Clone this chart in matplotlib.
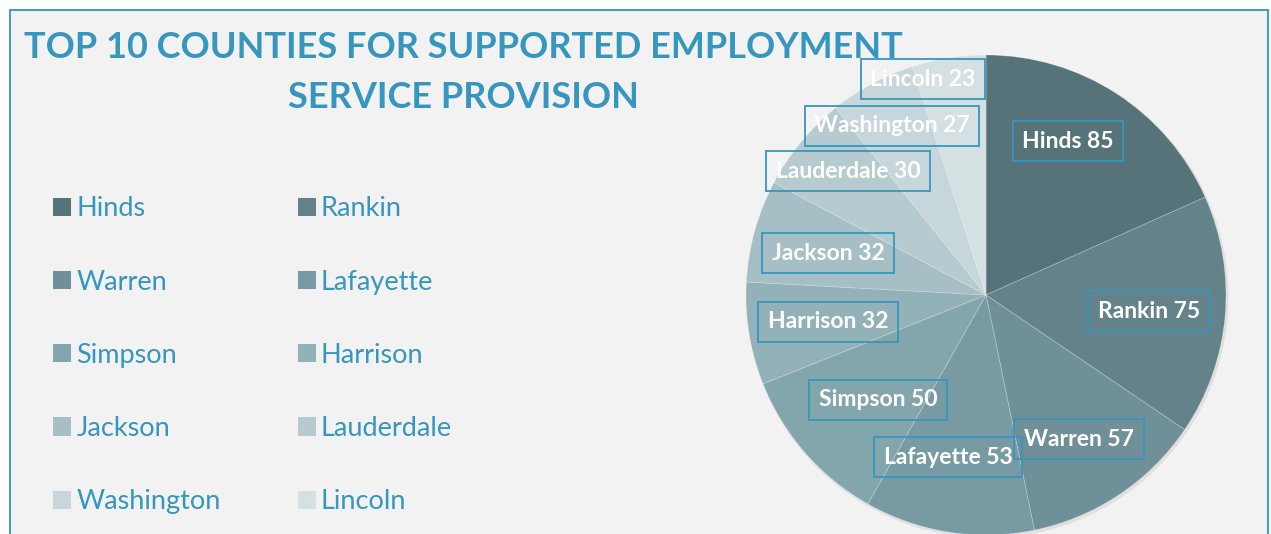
import matplotlib
matplotlib.use("Agg")
import matplotlib.pyplot as plt
from matplotlib.patches import Rectangle, Circle

counties = ["Hinds", "Rankin", "Warren", "Lafayette", "Simpson",
            "Harrison", "Jackson", "Lauderdale", "Washington", "Lincoln"]
values = [85, 75, 57, 53, 50, 32, 32, 30, 27, 23]
colors = ["#56737a", "#64828a", "#6f9098", "#789aa2", "#83a6ad",
          "#92b1b8", "#a5bfc5", "#b6cbd0", "#c7d6da", "#d5e0e3"]
# label box centres in figure pixels (x from left, y from top)
label_pos = [(1068, 141), (1149, 311), (1079, 439), (948, 457), (878, 400),
             (828, 322), (828, 253), (848, 171), (892, 126), (923, 79)]

W, H = 1271, 534
BG = "#f2f2f2"
ACCENT = "#3796bd"
plt.rcParams['font.family'] = ['Lato', 'DejaVu Sans']

fig = plt.figure(figsize=(W / 100, H / 100), dpi=100, facecolor="white")
ax = fig.add_axes([0, 0, 1, 1])

cx, cy, R = 986, H - 295, 240
ax.add_patch(Circle((cx + 1.5, cy - 2), R + 1, facecolor="#e0e0e0", edgecolor="none", zorder=1))
wedges, _ = ax.pie(values, colors=colors, startangle=90, counterclock=False,
                   center=(cx, cy), radius=R,
                   wedgeprops=dict(edgecolor=(1, 1, 1, 0.25), linewidth=0.6, zorder=2))
for w in wedges:
    w.set_zorder(2)

ax.set_xlim(0, W)
ax.set_ylim(0, H)
ax.set_aspect("equal")
ax.axis("off")

# panel background and frame
ax.add_patch(Rectangle((10, -20), 1258, H - 10 + 20, facecolor=BG, edgecolor="#4a9fb0",
                       linewidth=1.5, zorder=0))

for name, v, (px, py) in zip(counties, values, label_pos):
    ax.text(px, H - py, f"{name} {v}", ha="center", va="center", color="white",
            fontsize=16.5, fontweight="bold", zorder=5,
            bbox=dict(boxstyle="square,pad=0.42", facecolor="none", edgecolor=ACCENT, linewidth=1.3))

ax.text(463, H - 47, "TOP 10 COUNTIES FOR SUPPORTED EMPLOYMENT", ha="center", va="center",
        color=ACCENT, fontsize=26, fontweight="bold", zorder=5)
ax.text(463, H - 97, "SERVICE PROVISION", ha="center", va="center",
        color=ACCENT, fontsize=26, fontweight="bold", zorder=5)

order = [0, 2, 4, 6, 8, 1, 3, 5, 7, 9]
leg = ax.legend([wedges[i] for i in order], [counties[i] for i in order], ncol=2,
                loc="upper left", bbox_to_anchor=(29 / W, 1 - 172 / H), frameon=False,
                fontsize=19.5, labelcolor=ACCENT, handlelength=0.65, handleheight=0.65,
                handletextpad=0.2, labelspacing=1.78, columnspacing=2.85)
for h in leg.legend_handles:
    h.set_edgecolor("none")

fig.savefig("out.png", dpi=100, facecolor="white")
